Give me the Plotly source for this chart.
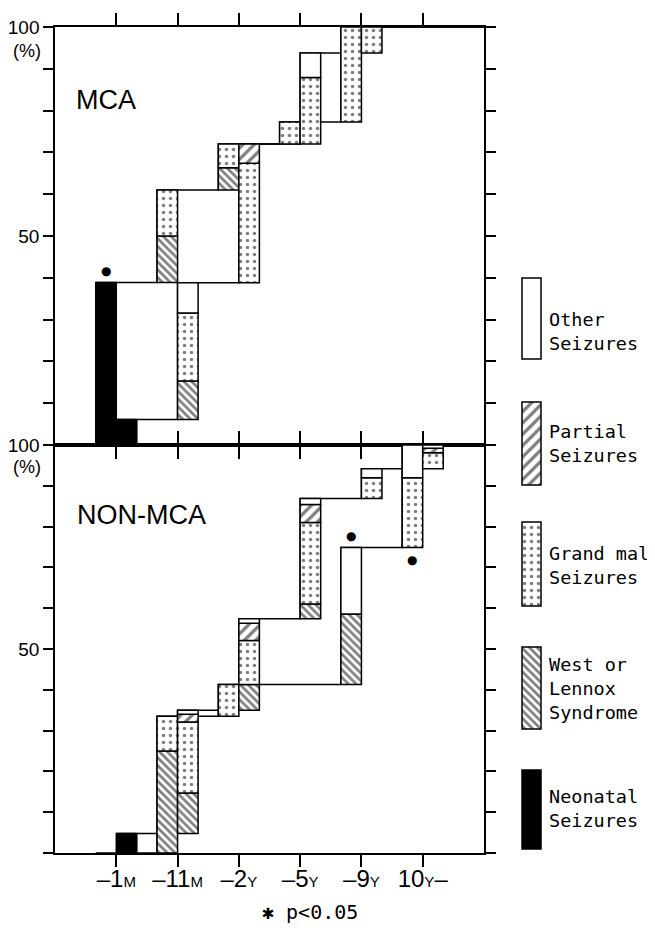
import numpy as np
import plotly.graph_objects as go

# ---------------- data ----------------
categories = ["-1M", "-11M", "-2Y", "-5Y", "-9Y", "10Y-"]
tick_labels = [
    "–1<span style='font-size:15px'>M</span>",
    "–11<span style='font-size:15px'>M</span>",
    "–2<span style='font-size:15px'>Y</span>",
    "–5<span style='font-size:15px'>Y</span>",
    "–9<span style='font-size:15px'>Y</span>",
    "10<span style='font-size:15px'>Y</span>–",
]
seizure_types = ["Neonatal", "West", "Grand mal", "Partial", "Other"]
legend_labels = ["Neonatal<br>Seizures", "West or<br>Lennox<br>Syndrome",
                 "Grand mal<br>Seizures", "Partial<br>Seizures", "Other<br>Seizures"]

# MCA group - first (left) bar of each pair, % added per age class
mca_a_neonatal = [38.9, 0, 0, 0, 0, 0]
mca_a_west     = [0, 11.1, 5.3, 0, 0, 0]
mca_a_grandmal = [0, 11.0, 5.7, 5.3, 22.7, 0]
mca_a_partial  = [0, 0, 0, 0, 0, 0]
mca_a_other    = [0, 0, 0, 0, 0, 0]
# MCA group - second (right) bar
mca_b_neonatal = [6.1, 0, 0, 0, 0, 0]
mca_b_west     = [0, 9.2, 0, 0, 0, 0]
mca_b_grandmal = [0, 16.3, 28.6, 15.9, 6.2, 0]
mca_b_partial  = [0, 0, 4.6, 0, 0, 0]
mca_b_other    = [0, 7.2, 0, 5.9, 0, 0]
# NON-MCA group - first (left) bar
non_a_neonatal = [0, 0, 0, 0, 0, 0]
non_a_west     = [0, 25.0, 0, 0, 17.3, 0]
non_a_grandmal = [0, 8.5, 7.8, 0, 0, 17.1]
non_a_partial  = [0, 0, 0, 0, 0, 0]
non_a_other    = [0, 0, 0, 0, 16.3, 8.0]
# NON-MCA group - second (right) bar
non_b_neonatal = [4.8, 0, 0, 0, 0, 0]
non_b_west     = [0, 9.9, 6.3, 3.6, 0, 0]
non_b_grandmal = [0, 17.4, 10.8, 20.0, 5.1, 3.9]
non_b_partial  = [0, 1.9, 4.2, 4.4, 0, 1.1]
non_b_other    = [0, 1.0, 1.1, 1.5, 2.2, 0.8]

# significant differences (p<0.05): panel, category, first-bar, above/below
sig_marks = [("MCA", "-1M", "above"), ("NON-MCA", "-9Y", "above"), ("NON-MCA", "10Y-", "below")]

# ---------------- styles ----------------
styles = {
    "Neonatal":  dict(color="black", pattern=None),
    "West":      dict(color="white", pattern=dict(shape="\\", size=5.5, solidity=0.5, fgcolor="black", bgcolor="white")),
    "Grand mal": dict(color="white", pattern=dict(shape=".", size=7, solidity=0.2, fgcolor="black", bgcolor="white")),
    "Partial":   dict(color="white", pattern=dict(shape="/", size=8, solidity=0.4, fgcolor="black", bgcolor="white")),
    "Other":     dict(color="white", pattern=None),
}

panels = {
    "MCA": {"a": [mca_a_neonatal, mca_a_west, mca_a_grandmal, mca_a_partial, mca_a_other],
            "b": [mca_b_neonatal, mca_b_west, mca_b_grandmal, mca_b_partial, mca_b_other]},
    "NON-MCA": {"a": [non_a_neonatal, non_a_west, non_a_grandmal, non_a_partial, non_a_other],
                "b": [non_b_neonatal, non_b_west, non_b_grandmal, non_b_partial, non_b_other]},
}
axes_for = {"MCA": ("x", "y", "y4"), "NON-MCA": ("x2", "y2", "y5")}

pos = np.arange(1, len(categories) + 1, dtype=float)
w = 0.335
LW = 1.5

fig = go.Figure()
tops = {}
for pname, pdata in panels.items():
    xa, ya_line, ya_bar = axes_for[pname]
    for sname, series in pdata.items():
        vals = np.array(series, dtype=float)
        totals = vals.sum(axis=0)
        cum = np.cumsum(totals)
        cat_base = np.concatenate([[0.0], cum[:-1]])
        seg_base = cat_base + np.vstack([np.zeros(len(categories)), np.cumsum(vals, axis=0)[:-1]])
        tops[(pname, sname)] = (cat_base, cum)
        offset = -w / 2 if sname == "a" else w / 2
        for ti, t in enumerate(seizure_types):
            v = [val if val > 0 else None for val in vals[ti]]
            st = styles[t]
            marker = dict(color=st["color"], line=dict(color="black", width=LW))
            if st["pattern"]:
                marker["pattern"] = st["pattern"]
            fig.add_trace(go.Bar(x=pos + offset, y=v, base=seg_base[ti], width=w,
                                 marker=marker, xaxis=xa, yaxis=ya_bar,
                                 showlegend=False, cliponaxis=False, hoverinfo="skip"))
        # cumulative step line
        edges = pos + (-w if sname == "a" else 0.0)
        xs = list(edges) + [7.0]
        ys = list(cum) + [cum[-1]]
        fig.add_trace(go.Scatter(x=xs, y=ys, mode="lines", line=dict(color="black", width=LW, shape="hv"),
                                 xaxis=xa, yaxis=ya_line, showlegend=False, hoverinfo="skip",
                                 cliponaxis=False))

# legend keys (drawn in a pixel-unit side axis)
legend_key_px = [(770, 849), (647, 729), (522, 606), (402, 485), (278, 359)]
for t, (y0, y1) in zip(seizure_types, legend_key_px):
    st = styles[t]
    marker = dict(color=st["color"], line=dict(color="black", width=LW))
    if st["pattern"]:
        marker["pattern"] = st["pattern"]
    fig.add_trace(go.Bar(x=[531.5], y=[y1 - y0], base=[y0], width=19, marker=marker,
                         xaxis="x3", yaxis="y3", showlegend=False, hoverinfo="skip", cliponaxis=False))

# page has an 8px body margin: figure is 8px smaller, and all positions are shifted
PAD = 8
W, H = 655 - PAD, 928 - PAD
ML, MT, MB, MR = 55 - PAD, 27 - PAD, 928 - 853, 0
pw, ph = W - ML - MR, H - MT - MB
xdom = [0, (484 - 55) / pw]
split = (853 - 445) / ph

tickvals_y = list(range(0, 101, 10))
ticktext_y = ["100" if v == 100 else ("50" if v == 50 else "") for v in tickvals_y]
axis_common = dict(showline=True, linecolor="black", linewidth=LW, mirror="ticks", showgrid=False,
                   zeroline=False, ticks="outside", tickcolor="black", tickwidth=LW)

fig.update_layout(
    width=W, height=H, margin=dict(l=ML, r=MR, t=MT, b=MB, autoexpand=False),
    paper_bgcolor="white", plot_bgcolor="white", barmode="overlay", showlegend=False,
    font=dict(family="Liberation Sans", color="black"),
    xaxis=dict(domain=xdom, range=[0, 7], anchor="y", side="top", tickvals=list(pos),
               showticklabels=False, ticklen=12, **axis_common),
    yaxis=dict(domain=[split, 1], range=[0, 100], anchor="x", tickvals=tickvals_y, ticktext=ticktext_y,
               ticklen=10, tickfont=dict(size=19, family="Liberation Sans"), **axis_common),
    xaxis2=dict(domain=xdom, range=[0, 7], anchor="y2", side="bottom", tickvals=list(pos),
                ticktext=tick_labels, ticklen=12, ticklabelstandoff=-9,
                tickfont=dict(size=24, family="Liberation Sans"), **axis_common),
    yaxis2=dict(domain=[0, split], range=[0, 100], anchor="x2", tickvals=tickvals_y, ticktext=ticktext_y,
                ticklen=10, tickfont=dict(size=19, family="Liberation Sans"), **axis_common),
    yaxis4=dict(overlaying="y", range=[0, 100], visible=False, anchor="x"),
    yaxis5=dict(overlaying="y2", range=[0, 100], visible=False, anchor="x2"),
    xaxis3=dict(domain=[(500 - 55) / pw, 1], range=[500, 655], visible=False, anchor="y3"),
    yaxis3=dict(domain=[0, 1], range=[853, 27], visible=False, anchor="x3"),
)

ann = []
# panel titles
ann.append(dict(text="MCA", xref="x domain", yref="y domain", x=(106 - 55) / (484 - 55), y=(445 - 100) / 418,
                xanchor="center", yanchor="middle",
                showarrow=False, font=dict(size=27, family="Liberation Sans")))
ann.append(dict(text="NON-MCA", xref="x2 domain", yref="y2 domain", x=(141 - 55) / (484 - 55), y=(853 - 515) / 408,
                xanchor="center", yanchor="middle",
                showarrow=False, font=dict(size=27, family="Liberation Sans")))
# (%) unit labels
for ypx in (51, 467):
    ann.append(dict(text="(%)", xref="paper", yref="paper", x=(27 - 55) / pw, y=(853 - ypx) / ph,
                    xanchor="center", yanchor="middle",
                    showarrow=False, font=dict(size=18, family="Liberation Sans")))
# legend texts
legend_text_px = [808, 688, 565, 443, 331]
for lab, ypx in zip(legend_labels, legend_text_px):
    ann.append(dict(text=lab, xref="x3", yref="y3", x=547, y=ypx, xanchor="left", yanchor="middle",
                    align="left", showarrow=False, font=dict(size=18.5, family="DejaVu Sans Mono")))
# significance marks
for pname, cat, where in sig_marks:
    xa, ya_line, _ = axes_for[pname]
    i = categories.index(cat)
    cat_base, cum = tops[(pname, "a")]
    yv = cum[i] if where == "above" else cat_base[i]
    ann.append(dict(text="●", xref=xa, yref=ya_line, x=pos[i] - w / 2, y=yv,
                    xanchor="center", yanchor="middle",
                    yshift=11 if where == "above" else -13, showarrow=False,
                    font=dict(size=12, family="DejaVu Sans")))
# footnote
ann.append(dict(text="✱ p<0.05", xref="paper", yref="paper", x=(310 - 55) / pw, y=(853 - 912) / ph,
                xanchor="center", yanchor="middle",
                showarrow=False, font=dict(size=20, family="DejaVu Sans Mono")))
fig.update_layout(annotations=ann)

fig.write_html("out.html")
